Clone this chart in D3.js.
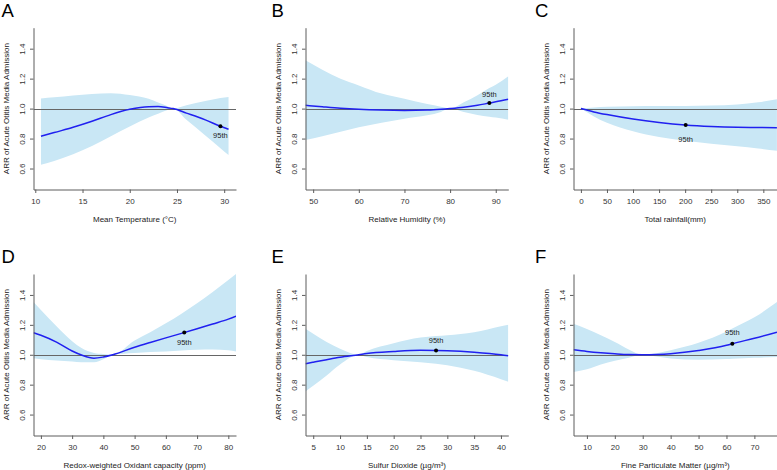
<!DOCTYPE html>
<html><head><meta charset="utf-8">
<script src="https://cdn.jsdelivr.net/npm/d3@7"></script>
<style>body{margin:0;background:#fff}svg{display:block;font-family:"Liberation Sans",Arial,Helvetica,sans-serif}</style>
</head><body><svg id="chart" width="777" height="470"></svg>
<script>
// ---------------- data ----------------
const yTicks = [0.6, 0.8, 1.0, 1.2, 1.4];
const yTitle = "ARR of Acute Otitis Media Admission";

// A: mean temperature
const tempX    = [10.6, 12, 14, 16, 18, 20, 22, 23, 24, 24.6, 26, 28, 29.6, 30.46];
const tempFit  = [0.815, 0.84, 0.875, 0.915, 0.96, 0.995, 1.013, 1.014, 1.006, 1.0, 0.97, 0.925, 0.882, 0.862];
const tempHigh = [1.067, 1.075, 1.088, 1.098, 1.102, 1.09, 1.065, 1.04, 1.016, 1.0, 1.022, 1.05, 1.07, 1.078];
const tempLow  = [0.626, 0.65, 0.695, 0.75, 0.815, 0.88, 0.94, 0.965, 0.99, 1.0, 0.925, 0.82, 0.735, 0.69];
const tempTicks = [10, 15, 20, 25, 30];
const tempP95 = [29.6, 0.882];

// B: relative humidity
const humX    = [48.3, 52, 56, 60, 65, 70, 75, 78, 80, 83, 86, 88.6, 90, 92.76];
const humFit  = [1.022, 1.012, 1.002, 0.995, 0.99, 0.988, 0.99, 0.995, 1.0, 1.009, 1.022, 1.037, 1.045, 1.062];
const humHigh = [1.323, 1.26, 1.2, 1.155, 1.1, 1.065, 1.03, 1.012, 1.0, 1.042, 1.089, 1.137, 1.16, 1.216];
const humLow  = [0.79, 0.815, 0.845, 0.875, 0.905, 0.932, 0.955, 0.978, 1.0, 0.977, 0.958, 0.946, 0.94, 0.925];
const humTicks = [50, 60, 70, 80, 90];
const humP95 = [88.6, 1.037];

// C: total rainfall
const rainX    = [0, 25, 50, 100, 150, 200, 250, 300, 340, 376];
const rainFit  = [1.0, 0.978, 0.96, 0.93, 0.907, 0.89, 0.88, 0.875, 0.874, 0.873];
const rainHigh = [1.0, 1.008, 1.012, 1.016, 1.018, 1.018, 1.02, 1.028, 1.042, 1.063];
const rainLow  = [1.0, 0.948, 0.905, 0.848, 0.81, 0.785, 0.765, 0.748, 0.733, 0.718];
const rainTicks = [0, 50, 100, 150, 200, 250, 300, 350];
const rainP95 = [201, 0.89];

// D: redox-weighted oxidant capacity
const oxX    = [17.64, 20, 25, 30, 33, 37, 40, 43, 50, 55, 60, 65, 70, 75, 80, 82.5];
const oxFit  = [1.147, 1.13, 1.084, 1.025, 0.998, 0.977, 0.985, 1.0, 1.05, 1.082, 1.113, 1.143, 1.174, 1.206, 1.238, 1.258];
const oxHigh = [1.352, 1.3, 1.19, 1.09, 1.045, 1.012, 1.005, 1.0, 1.095, 1.15, 1.21, 1.275, 1.345, 1.42, 1.5, 1.54];
const oxLow  = [0.977, 0.97, 0.962, 0.955, 0.95, 0.95, 0.97, 1.0, 1.012, 1.018, 1.022, 1.028, 1.034, 1.035, 1.03, 1.022];
const oxTicks = [20, 30, 40, 50, 60, 70, 80];
const oxP95 = [65.9, 1.149];

// E: sulfur dioxide
const so2X    = [3.56, 5, 7.5, 10, 13.5, 15, 20, 25, 27.9, 30, 35, 40, 41.37];
const so2Fit  = [0.94, 0.95, 0.967, 0.983, 1.0, 1.008, 1.022, 1.03, 1.029, 1.027, 1.017, 1.0, 0.993];
const so2High = [1.174, 1.14, 1.085, 1.04, 1.0, 1.025, 1.077, 1.115, 1.125, 1.13, 1.15, 1.19, 1.2];
const so2Low  = [0.755, 0.792, 0.862, 0.935, 1.0, 0.985, 0.964, 0.95, 0.94, 0.93, 0.893, 0.837, 0.82];
const so2Ticks = [5, 10, 15, 20, 25, 30, 35, 40];
const so2P95 = [27.9, 1.029];

// F: fine particulate matter
const pmX    = [5.2, 10, 15, 20, 25, 30, 35, 40, 50, 60, 62.1, 70, 78.1];
const pmFit  = [1.033, 1.022, 1.013, 1.006, 1.001, 1.0, 1.002, 1.007, 1.028, 1.063, 1.074, 1.11, 1.151];
const pmHigh = [1.207, 1.172, 1.13, 1.085, 1.035, 1.0, 1.01, 1.03, 1.08, 1.155, 1.175, 1.25, 1.352];
const pmLow  = [0.884, 0.903, 0.935, 0.96, 0.98, 1.0, 0.988, 0.975, 0.967, 0.972, 0.974, 0.98, 0.985];
const pmTicks = [10, 20, 30, 40, 50, 60, 70];
const pmP95 = [62.1, 1.074];

// ---------------- layout ----------------
const cols = [[33.5, 236], [305.5, 508.3], [573.5, 777]];
const rows = [[189.5, 27.7], [435.5, 274]];
const yDomain = [0.46, 1.54];
const letterX = [1.5, 271.5, 535];
const letterY = [17, 263];

const panels = [
  {letter:"A", title:"Mean Temperature (\u00B0C)", xs:tempX, fit:tempFit, hi:tempHigh, lo:tempLow, ticks:tempTicks, p95:tempP95, domain:[9.81, 31.25], c:0, r:0, labDy:12},
  {letter:"B", title:"Relative Humidity (%)", xs:humX, fit:humFit, hi:humHigh, lo:humLow, ticks:humTicks, p95:humP95, domain:[48.32, 92.75], c:1, r:0, labDy:-6},
  {letter:"C", title:"Total rainfall(mm)", xs:rainX, fit:rainFit, hi:rainHigh, lo:rainLow, ticks:rainTicks, p95:rainP95, domain:[-14.2, 376.2], c:2, r:0, labDy:16.5},
  {letter:"D", title:"Redox-weighted Oxidant capacity (ppm)", xs:oxX, fit:oxFit, hi:oxHigh, lo:oxLow, ticks:oxTicks, p95:oxP95, domain:[17.63, 82.46], c:0, r:1, labDy:13},
  {letter:"E", title:"Sulfur Dioxide (\u00B5g/m\u00B3)", xs:so2X, fit:so2Fit, hi:so2High, lo:so2Low, ticks:so2Ticks, p95:so2P95, domain:[3.56, 41.37], c:1, r:1, labDy:-7},
  {letter:"F", title:"Fine Particulate Matter (\u00B5g/m\u00B3)", xs:pmX, fit:pmFit, hi:pmHigh, lo:pmLow, ticks:pmTicks, p95:pmP95, domain:[5.2, 78.1], c:2, r:1, labDy:-8.5}
];

const svg = d3.select("#chart");
const axisCol = "#5c5c5c";

panels.forEach((p, i) => {
  const x = d3.scaleLinear().domain(p.domain).range(cols[p.c]);
  const y = d3.scaleLinear().domain(yDomain).range(rows[p.r]);
  const g = svg.append("g");
  const clipId = "clip" + i;
  g.append("clipPath").attr("id", clipId).append("rect")
    .attr("x", cols[p.c][0]).attr("y", rows[p.r][1])
    .attr("width", cols[p.c][1] - cols[p.c][0]).attr("height", rows[p.r][0] - rows[p.r][1]);
  const plot = g.append("g").attr("clip-path", `url(#${clipId})`);
  const pts = p.xs.map((v, k) => ({x: v, f: p.fit[k], lo: p.lo[k], hi: p.hi[k]}));

  plot.append("path").datum(pts)
    .attr("fill", "#c9e7f5")
    .attr("d", d3.area().x(d => x(d.x)).y0(d => y(d.lo)).y1(d => y(d.hi)).curve(d3.curveMonotoneX));

  plot.append("line")
    .attr("x1", cols[p.c][0]).attr("x2", cols[p.c][1])
    .attr("y1", Math.round(y(1.0)) + 0.5).attr("y2", Math.round(y(1.0)) + 0.5)
    .attr("stroke", "#666").attr("stroke-width", 1);

  plot.append("path").datum(pts)
    .attr("fill", "none").attr("stroke", "#2020f0").attr("stroke-width", 1.5)
    .attr("d", d3.line().x(d => x(d.x)).y(d => y(d.f)).curve(d3.curveMonotoneX));

  // axes
  const xa = g.append("g").attr("transform", `translate(0,${rows[p.r][0]})`)
    .call(d3.axisBottom(x).tickValues(p.ticks).tickSize(3.5).tickSizeOuter(0).tickFormat(d3.format("d")));
  xa.selectAll("text").attr("y", 14.7).attr("dy", null)
    .attr("font-size", 8).attr("fill", "#333").attr("font-family", null);
  const ya = g.append("g").attr("transform", `translate(${cols[p.c][0]},0)`)
    .call(d3.axisLeft(y).tickValues(yTicks).tickSize(3.5).tickSizeOuter(0).tickFormat(d3.format(".1f")));
  ya.selectAll("text").attr("x", null).attr("dy", null).attr("text-anchor", "middle")
    .attr("transform", "translate(-9,0) rotate(-90)")
    .attr("font-size", 8).attr("fill", "#333").attr("font-family", null);
  [xa, ya].forEach(a => {
    a.selectAll("path,line").attr("stroke", axisCol);
    a.attr("font-family", null);
  });

  // 95th point
  g.append("circle").attr("cx", x(p.p95[0])).attr("cy", y(p.p95[1])).attr("r", 2).attr("fill", "#000");
  g.append("text").attr("x", x(p.p95[0])).attr("y", y(p.p95[1]) + p.labDy)
    .attr("text-anchor", "middle").attr("font-size", 7.5).attr("fill", "#222").text("95th");

  // titles
  g.append("text").attr("x", (cols[p.c][0] + cols[p.c][1]) / 2).attr("y", rows[p.r][0] + 32.7)
    .attr("text-anchor", "middle").attr("font-size", 8).attr("fill", "#222").text(p.title);
  const yc = (rows[p.r][0] + rows[p.r][1]) / 2;
  g.append("text").attr("transform", `translate(${cols[p.c][0] - 25},${yc}) rotate(-90)`)
    .attr("text-anchor", "middle").attr("font-size", 8).attr("fill", "#222").text(yTitle);
  g.append("text").attr("x", letterX[p.c]).attr("y", letterY[p.r])
    .attr("font-size", 18.5).attr("fill", "#000").text(p.letter);
});
</script></body></html>
